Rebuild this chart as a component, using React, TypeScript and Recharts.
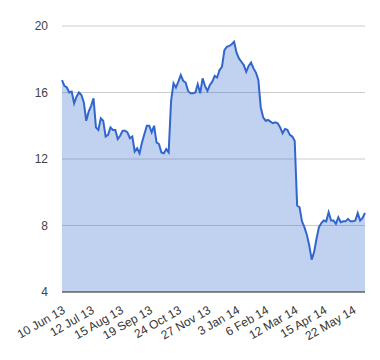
import React from 'react';
import { AreaChart, Area, XAxis, YAxis, CartesianGrid } from 'recharts';

const dates: string[] = [
  '10 Jun 13','12 Jun 13','14 Jun 13','18 Jun 13','20 Jun 13','24 Jun 13','26 Jun 13','28 Jun 13','2 Jul 13','4 Jul 13','8 Jul 13','10 Jul 13',
  '12 Jul 13','16 Jul 13','18 Jul 13','22 Jul 13','24 Jul 13','26 Jul 13','30 Jul 13','1 Aug 13','5 Aug 13','7 Aug 13','9 Aug 13','13 Aug 13',
  '15 Aug 13','19 Aug 13','21 Aug 13','23 Aug 13','28 Aug 13','30 Aug 13','3 Sep 13','5 Sep 13','9 Sep 13','11 Sep 13','13 Sep 13','17 Sep 13',
  '19 Sep 13','23 Sep 13','25 Sep 13','27 Sep 13','1 Oct 13','3 Oct 13','7 Oct 13','9 Oct 13','11 Oct 13','15 Oct 13','18 Oct 13','22 Oct 13',
  '24 Oct 13','28 Oct 13','30 Oct 13','1 Nov 13','5 Nov 13','7 Nov 13','11 Nov 13','13 Nov 13','15 Nov 13','19 Nov 13','21 Nov 13','25 Nov 13',
  '27 Nov 13','29 Nov 13','3 Dec 13','5 Dec 13','9 Dec 13','11 Dec 13','13 Dec 13','17 Dec 13','19 Dec 13','23 Dec 13','27 Dec 13','31 Dec 13',
  '3 Jan 14','7 Jan 14','9 Jan 14','13 Jan 14','15 Jan 14','17 Jan 14','21 Jan 14','23 Jan 14','27 Jan 14','29 Jan 14','31 Jan 14','4 Feb 14',
  '6 Feb 14','10 Feb 14','12 Feb 14','14 Feb 14','18 Feb 14','20 Feb 14','24 Feb 14','26 Feb 14','28 Feb 14','4 Mar 14','6 Mar 14','10 Mar 14',
  '12 Mar 14','14 Mar 14','18 Mar 14','20 Mar 14','24 Mar 14','26 Mar 14','28 Mar 14','1 Apr 14','3 Apr 14','7 Apr 14','9 Apr 14','11 Apr 14',
  '15 Apr 14','17 Apr 14','23 Apr 14','25 Apr 14','29 Apr 14','1 May 14','6 May 14','8 May 14','12 May 14','14 May 14','16 May 14','20 May 14',
  '22 May 14','27 May 14','29 May 14','2 Jun 14','4 Jun 14','6 Jun 14',
];

const prices: number[] = [
  16.75, 16.4, 16.3, 16.0, 16.05, 15.35, 15.75, 16.0, 15.85, 15.4, 14.3, 14.85,
  15.2, 15.65, 13.9, 13.75, 14.45, 14.3, 13.35, 13.45, 13.9, 13.75, 13.75, 13.2,
  13.4, 13.7, 13.7, 13.6, 13.25, 13.35, 12.45, 12.65, 12.35, 13.0, 13.5, 14.0,
  14.0, 13.6, 14.0, 13.0, 12.9, 12.4, 12.35, 12.6, 12.4, 15.5, 16.55, 16.3,
  16.65, 17.05, 16.7, 16.6, 16.1, 15.95, 15.95, 16.0, 16.5, 15.95, 16.85, 16.4,
  16.1, 16.45, 16.65, 17.0, 16.9, 17.35, 17.55, 18.55, 18.75, 18.8, 18.9, 19.05,
  18.4, 18.05, 17.85, 17.65, 17.25, 17.6, 17.8, 17.45, 17.2, 16.75, 15.1, 14.5,
  14.3, 14.35, 14.25, 14.15, 14.2, 14.15, 13.9, 13.55, 13.8, 13.75, 13.45, 13.35,
  13.1, 9.2, 9.1, 8.25, 7.9, 7.45, 6.8, 5.95, 6.4, 7.2, 7.9, 8.15,
  8.3, 8.25, 8.8, 8.3, 8.3, 8.1, 8.5, 8.2, 8.25, 8.25, 8.4, 8.25,
  8.25, 8.3, 8.75, 8.3, 8.45, 8.75,
];

const yTicks: number[] = [4, 8, 12, 16, 20];

const data = dates.map((d, i) => ({ date: d, value: prices[i] }));

const FONT = '"Liberation Sans", Arial, sans-serif';

const XTick = (props: any) => {
  const { x, y, payload } = props;
  const tx = x + 4;
  const ty = y + 20.5;
  return (
    <text
      x={tx}
      y={ty}
      transform={`rotate(-30 ${tx} ${ty})`}
      textAnchor="end"
      fontSize={12}
      fontFamily={FONT}
      fill="#333"
    >
      {payload.value}
    </text>
  );
};

export default function App() {
  return (
    <AreaChart
      width={372}
      height={350}
      data={data}
      margin={{ top: 18, right: 15, left: 0, bottom: 6 }}
    >
      <CartesianGrid vertical={false} stroke="#cccccc" />
      <XAxis
        dataKey="date"
        interval={11}
        tickLine={false}
        tickSize={0}
        tickMargin={0}
        axisLine={{ stroke: '#333333', strokeWidth: 1 }}
        height={60}
        tick={<XTick />}
      />
      <YAxis
        type="number"
        domain={[4, 20]}
        ticks={yTicks}
        width={54}
        axisLine={false}
        tickLine={false}
        tickSize={0}
        tickMargin={14}
        tick={{ fontSize: 12, fill: '#444', fontFamily: FONT }}
      />
      <Area
        type="linear"
        dataKey="value"
        stroke="#3366cc"
        strokeWidth={2}
        fill="#3366cc"
        fillOpacity={0.3}
        dot={false}
        activeDot={false}
        isAnimationActive={false}
      />
    </AreaChart>
  );
}
